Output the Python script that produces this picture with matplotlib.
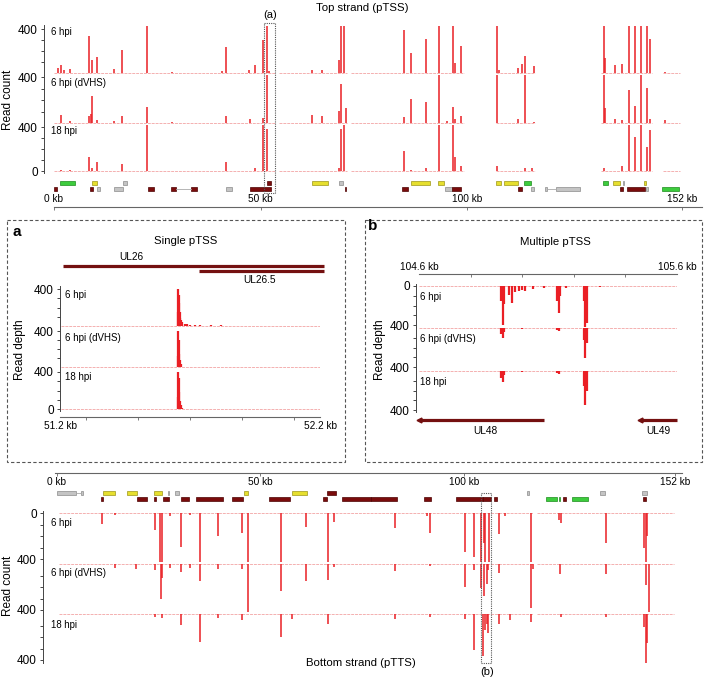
import numpy as np
import matplotlib.pyplot as plt
from matplotlib.patches import Rectangle
from matplotlib.ticker import FixedLocator

plt.rcParams['font.family'] = ['Liberation Sans', 'DejaVu Sans']
plt.rcParams['axes.linewidth'] = 0.8

W, H = 704, 677
RED = '#ea1f25'
BASE = '#f4b0b0'
AXC = '#444444'
DARK = '#741010'
GENE_FACE = {'d': '#7a0c0c', 'y': '#e6df2e', 'g': '#3dcc3d', 'n': '#c4c4c4'}
GENE_EDGE = {'d': '#4d0202', 'y': '#9c961a', 'g': '#1d8c1d', 'n': '#8c8c8c'}

libraries = ['6 hpi', '6 hpi (dVHS)', '18 hpi']

# ---- top strand (pTSS): peak position (kb) and read count
top_6h_pos = [1.0, 1.6, 2.5, 3.8, 8.5, 9.2, 10.4, 14.6, 16.5, 22.5, 28.5, 40.6, 41.7, 47.1, 48.6, 50.7,
              51.5, 52.0, 62.5, 64.8, 69.1, 69.4, 70.1, 84.7, 86.5, 90.1, 93.3, 96.5, 97.0, 98.4, 107.3,
              107.6, 112.3, 113.2, 114.1, 116.1, 133.1, 133.3, 135.9, 137.5, 139.2, 140.6, 142.1, 143.6,
              144.2, 148.0]
top_6h_cnt = [42, 73, 24, 36, 336, 118, 145, 33, 206, 425, 12, 15, 233, 30, 70, 297,
              425, 20, 30, 24, 121, 425, 425, 395, 185, 306, 425, 425, 88, 245, 425,
              30, 42, 79, 155, 64, 425, 133, 70, 79, 425, 425, 425, 425,
              309, 5]
top_dv_pos = [1.6, 3.8, 8.5, 8.9, 9.2, 10.4, 14.6, 16.5, 22.5, 28.5, 41.7, 47.5, 50.7, 51.5, 62.5, 64.8,
              69.1, 69.4, 70.6, 84.7, 86.5, 90.1, 93.3, 95.1, 96.5, 97.0, 98.4, 107.3, 112.3, 114.1,
              116.1, 133.1, 133.3, 135.9, 137.5, 139.2, 140.6, 142.1, 143.6, 144.2, 147.8]
top_dv_cnt = [68, 15, 59, 82, 238, 24, 18, 59, 141, 9, 59, 32, 47, 425, 68, 59,
              103, 341, 132, 53, 206, 182, 425, 15, 141, 38, 65, 425, 38, 425,
              9, 425, 132, 32, 24, 288, 147, 425, 303, 38, 24]
top_18h_pos = [1.6, 3.8, 8.5, 9.2, 10.4, 16.5, 22.5, 41.7, 48.6, 50.7, 51.5, 69.1, 69.4, 70.1, 84.7,
               86.5, 90.1, 93.3, 96.5, 97.0, 98.4, 107.3, 114.1, 115.6, 133.1, 137.5, 139.2, 140.6,
               142.1, 143.6, 144.2]
top_18h_cnt = [9, 12, 131, 27, 78, 66, 425, 78, 27, 425, 379, 27, 379, 425, 185,
               9, 24, 425, 425, 131, 42, 48, 24, 24, 30, 42, 425, 310,
               425, 221, 370]
top_cov = [(0, 53.5), (54.5, 71.0), (72.0, 99.3), (106.9, 116.4), (132.5, 144.8), (147.4, 151.5)]

# ---- bottom strand (pTTS)
bot_6h_pos = [11.1, 14.3, 24.1, 25.3, 25.9, 27.8, 30.4, 32.7, 35.0, 39.6, 45.4, 46.8, 55.0, 61.2, 66.5,
              68.1, 83.1, 90.9, 91.7, 100.2, 102.5, 104.2, 104.9, 105.2, 106.1, 108.5, 109.9, 116.5,
              123.2, 123.7, 134.7, 144.2, 144.6, 145.0]
bot_6h_cnt = [93, 15, 145, 425, 425, 29, 296, 15, 425, 203, 174, 425, 425, 122, 425,
              78, 130, 29, 174, 342, 383, 425, 262, 425, 425, 180, 29, 425,
              58, 87, 261, 300, 425, 203]
bot_dv_pos = [14.3, 19.5, 24.1, 25.5, 25.9, 27.8, 30.4, 32.7, 35.0, 39.6, 45.4, 46.8, 55.0, 61.2, 66.5,
              68.1, 83.1, 91.7, 100.2, 102.5, 104.2, 104.9, 105.5, 105.9, 108.5, 116.5, 116.8, 123.5,
              134.7, 144.6, 145.4]
bot_dv_cnt = [35, 43, 49, 308, 118, 35, 72, 35, 147, 46, 46, 425, 239, 147, 141,
              26, 60, 20, 199, 55, 213, 279, 170, 55, 78, 386, 40, 83,
              83, 184, 425]
bot_18h_pos = [24.1, 25.9, 30.4, 35.0, 39.6, 45.4, 55.0, 57.8, 66.5, 83.1, 91.7, 100.2, 102.5, 104.5,
               105.2, 105.5, 105.9, 108.5, 111.3, 116.5, 123.7, 134.7, 144.2, 144.6, 145.0]
bot_18h_cnt = [23, 32, 96, 241, 32, 52, 197, 43, 87, 43, 23, 43, 313, 365,
               139, 87, 168, 87, 52, 67, 23, 23, 116, 425, 250]
bot_cov = [(0.5, 116.8), (117.8, 151.5)]

# ---- genome annotation (start kb, end kb, row, kind)
top_genes = [(1.5, 5.0, 0, 'g'), (9.1, 10.3, 0, 'y'), (16.6, 17.6, 0, 'n'), (51.5, 52.5, 0, 'd'),
             (62.4, 66.3, 0, 'y'), (68.9, 69.9, 0, 'n'), (86.3, 91.1, 0, 'y'), (93.0, 94.5, 0, 'y'),
             (107.0, 108.2, 0, 'y'), (108.9, 112.3, 0, 'y'), (113.7, 115.4, 0, 'g'), (132.8, 134.0, 0, 'g'),
             (135.4, 136.9, 0, 'y'), (137.7, 138.0, 0, 'n'), (142.9, 143.4, 0, 'y'),
             (0.0, 0.8, 1, 'd'), (8.7, 9.4, 1, 'd'), (10.4, 11.1, 1, 'n'), (14.5, 16.6, 1, 'n'),
             (22.7, 24.3, 1, 'd'), (28.4, 29.6, 1, 'd'), (33.2, 34.5, 1, 'd'), (41.7, 43.1, 1, 'n'),
             (47.5, 52.5, 1, 'd'), (70.4, 70.7, 1, 'd'), (84.3, 85.8, 1, 'd'), (94.7, 96.4, 1, 'n'),
             (96.4, 98.5, 1, 'd'), (112.3, 113.3, 1, 'd'), (115.4, 116.1, 1, 'n'), (118.8, 119.3, 1, 'n'),
             (121.4, 127.2, 1, 'n'), (136.9, 137.8, 1, 'd'), (138.6, 143.1, 1, 'd'), (143.4, 143.8, 1, 'n'),
             (147.2, 151.3, 1, 'g')]
top_links = [(29.6, 33.2, 1), (119.3, 121.4, 1)]
bot_genes = [(0.0, 4.7, 0, 'n'), (5.9, 6.4, 0, 'n'), (11.3, 14.2, 0, 'y'), (17.2, 19.6, 0, 'y'),
             (23.8, 25.7, 0, 'y'), (27.2, 27.5, 0, 'n'), (28.9, 29.9, 0, 'n'), (45.8, 46.8, 0, 'y'),
             (57.6, 61.3, 0, 'y'), (66.4, 68.4, 0, 'd'), (115.4, 115.9, 0, 'n'), (133.3, 134.6, 0, 'n'),
             (143.6, 144.9, 0, 'n'),
             (10.8, 11.3, 1, 'd'), (19.6, 22.1, 1, 'd'), (23.8, 24.3, 1, 'd'), (26.0, 27.5, 1, 'd'),
             (30.4, 32.4, 1, 'd'), (34.1, 40.7, 1, 'd'), (42.9, 45.6, 1, 'd'), (52.0, 57.1, 1, 'd'),
             (65.4, 66.4, 1, 'd'), (70.1, 77.0, 1, 'd'), (77.0, 83.6, 1, 'd'), (90.2, 91.9, 1, 'd'),
             (98.0, 104.7, 1, 'd'), (104.7, 106.6, 1, 'd'), (107.4, 108.1, 1, 'd'), (120.0, 122.8, 1, 'g'),
             (123.2, 123.5, 1, 'g'), (124.3, 125.0, 1, 'd'), (126.5, 130.4, 1, 'g'), (143.9, 144.6, 1, 'd')]
bot_links = [(4.7, 5.9, 0)]

# ---- panel a (51.2-52.2 kb, top strand)
a_6h_pos = [51.652, 51.654, 51.656, 51.658, 51.660, 51.662, 51.665, 51.670, 51.680, 51.690, 51.700,
            51.720, 51.740, 51.780, 51.820, 51.900]
a_6h_cnt = [150, 400, 330, 250, 150, 90, 60, 40, 25, 20, 15, 15, 10, 8, 6, 5]
a_dv_pos = [51.652, 51.654, 51.656, 51.658, 51.660, 51.665]
a_dv_cnt = [120, 400, 300, 150, 80, 30]
a_18h_pos = [51.652, 51.654, 51.656, 51.658, 51.660, 51.665, 51.670]
a_18h_cnt = [130, 400, 330, 180, 90, 40, 15]
a_genes = [('UL26', 51.21, 52.215, 51.473), ('UL26.5', 51.735, 52.215, 51.969)]

# ---- panel b (104.6-105.6 kb, bottom strand)
b_6h_pos = [104.918, 104.924, 104.930, 104.948, 104.960, 104.973, 104.986, 105.000, 105.012, 105.040,
            105.085, 105.135, 105.141, 105.147, 105.170, 105.240, 105.245, 105.250, 105.300]
b_6h_cnt = [150, 400, 180, 92, 178, 58, 55, 40, 50, 30, 25, 150, 280, 100, 25, 150, 420, 380, 10]
b_dv_pos = [104.918, 104.924, 104.930, 105.000, 105.135, 105.141, 105.240, 105.245, 105.250]
b_dv_cnt = [60, 104, 40, 10, 25, 35, 120, 306, 150]
b_18h_pos = [104.918, 104.924, 104.930, 105.000, 105.135, 105.141, 105.240, 105.245, 105.250]
b_18h_cnt = [70, 110, 45, 10, 25, 35, 150, 350, 200]
b_genes = [('UL48', 104.6, 105.085, 104.856), ('UL49', 105.457, 105.6, 105.526)]

fig = plt.figure(figsize=(W / 100, H / 100), dpi=100)


def box(x0, y0, x1, y1):
    return [x0 / W, 1 - y1 / H, (x1 - x0) / W, (y1 - y0) / H]


def track(x0, x1, top, bot, y0, y400, xlim, majors):
    ax = fig.add_axes(box(x0, top, x1, bot))
    ax.set_ylim(400 * (bot - y0) / (y400 - y0), 400 * (top - y0) / (y400 - y0))
    ax.set_xlim(*xlim)
    ax.patch.set_alpha(0)
    for s in ['top', 'right', 'bottom']:
        ax.spines[s].set_visible(False)
    ax.spines['left'].set_color(AXC)
    ax.spines['left'].set_linewidth(0.7)
    ax.set_xticks([])
    ax.set_yticks(majors)
    ax.yaxis.set_minor_locator(FixedLocator([100, 200, 300]))
    ax.tick_params(axis='y', which='both', colors=AXC, labelcolor='black', labelsize=8.5,
                   length=2.5, width=0.7, pad=2)
    return ax


def ruler(x0, x1, ypx, xlim, ticks, labels, dy):
    ax = fig.add_axes(box(x0, ypx - 6, x1, ypx))
    ax.set_xlim(*xlim)
    ax.patch.set_alpha(0)
    for s in ['top', 'right', 'left']:
        ax.spines[s].set_visible(False)
    ax.spines['bottom'].set_color('#666666')
    ax.spines['bottom'].set_linewidth(0.8)
    ax.set_yticks([])
    ax.set_xticks(ticks)
    ax.set_xticklabels([])
    ax.tick_params(axis='x', length=2.5, width=0.6, colors='#666666')
    for k, lab in labels:
        ax.annotate(lab, (k, 0), xycoords=('data', 'axes fraction'), xytext=(0, dy),
                    textcoords='offset points', ha='center', va='center', fontsize=7.3)
    return ax


def gene_track(x0, x1, top, bot, genes, links):
    ax = fig.add_axes(box(x0, top, x1, bot))
    ax.set_xlim(0, 152)
    ax.set_ylim(0, 1)
    ax.axis('off')
    rows = [0.714, 0.286]
    for s, e, r in links:
        ax.plot([s, e], [rows[r], rows[r]], color='#aaaaaa', lw=0.6)
    for s, e, r, k in genes:
        ax.add_patch(Rectangle((s, rows[r] - 0.15), e - s, 0.3, facecolor=GENE_FACE[k],
                               edgecolor=GENE_EDGE[k], lw=0.5))
    return ax


def draw_peaks(ax, pos, cnt, cov, lw=1.1):
    for s, e in cov:
        ax.plot([s, e], [0, 0], color=BASE, lw=0.7, ls=(0, (3, 1)), zorder=1)
    ax.vlines(pos, 0, cnt, color=RED, lw=lw, zorder=2)


# ---------- top strand ----------
top_sets = [(top_6h_pos, top_6h_cnt), (top_dv_pos, top_dv_cnt), (top_18h_pos, top_18h_cnt)]
top_geom = [(25, 75, 73, 29), (75, 125, 123, 77), (125, 173, 171, 127)]
for i, ((pos, cnt), (t, b, y0, y4)) in enumerate(zip(top_sets, top_geom)):
    majors = [0, 400] if i == 2 else [400]
    ax = track(44, 682, t, b, y0, y4, (-2.42, 152), majors)
    draw_peaks(ax, pos, cnt, top_cov)
gene_track(54, 682, 179, 193, top_genes, top_links)
ruler(54, 702, 207, (0, 156.9), [0, 50, 100, 152],
      [(0, '0 kb'), (50, '50 kb'), (100, '100 kb'), (152, '152 kb')], 5.8)

# ---------- bottom strand ----------
bot_sets = [(bot_6h_pos, bot_6h_cnt), (bot_dv_pos, bot_dv_cnt), (bot_18h_pos, bot_18h_cnt)]
bot_geom = [(511, 561.5, 513, 559), (561.5, 612, 564, 610), (612, 663, 614, 660)]
for i, ((pos, cnt), (t, b, y0, y4)) in enumerate(zip(bot_sets, bot_geom)):
    majors = [0, 400] if i == 0 else [400]
    ax = track(43, 676, t, b, y0, y4, (-3.44, 152), majors)
    draw_peaks(ax, pos, cnt, bot_cov)
gene_track(57, 676, 489, 503, bot_genes, bot_links)
ruler(55, 682, 473, (-0.49, 153.6), [0, 50, 100, 152],
      [(0, '0 kb'), (50, '50 kb'), (100, '100 kb'), (152, '152 kb')], -6.5)

# ---------- panel a ----------
a_sets = [(a_6h_pos, a_6h_cnt), (a_dv_pos, a_dv_cnt), (a_18h_pos, a_18h_cnt)]
a_geom = [(286, 328.5, 326, 289), (328.5, 369.5, 367, 331), (369.5, 411, 409, 372)]
for i, ((pos, cnt), (t, b, y0, y4)) in enumerate(zip(a_sets, a_geom)):
    majors = [0, 400] if i == 2 else [400]
    ax = track(60, 320, t, b, y0, y4, (51.2, 52.2), majors)
    draw_peaks(ax, pos, cnt, [(51.205, 52.2)], lw=1.6)
ruler(60, 320, 417, (51.2, 52.2), [51.3, 51.5, 51.7, 51.9, 52.1],
      [(51.2, '51.2 kb'), (52.2, '52.2 kb')], -6.5)
ga = fig.add_axes(box(60, 250, 320, 285))
ga.set_xlim(51.2, 52.2)
ga.set_ylim(0, 1)
ga.axis('off')
for (name, s, e, lx), y, ly in zip(a_genes, [0.543, 0.4], [0.8, 0.143]):
    ga.plot([s, e], [y, y], color=DARK, lw=2.3, solid_capstyle='butt', clip_on=False)
    ga.text(lx, ly, name, ha='center', va='center', fontsize=7.3)

# ---------- panel b ----------
b_sets = [(b_6h_pos, b_6h_cnt), (b_dv_pos, b_dv_cnt), (b_18h_pos, b_18h_cnt)]
b_geom = [(284, 326.5, 286, 325), (326.5, 369, 328, 367), (369, 412, 371, 410)]
for i, ((pos, cnt), (t, b, y0, y4)) in enumerate(zip(b_sets, b_geom)):
    majors = [0, 400] if i == 0 else [400]
    ax = track(416, 677, t, b, y0, y4, (104.588, 105.6), majors)
    draw_peaks(ax, pos, cnt, [(104.6, 105.6)], lw=1.6)
ruler(419, 677, 274, (104.6, 105.6), [104.8, 105.0, 105.2, 105.4],
      [(104.6, '104.6 kb'), (105.6, '105.6 kb')], 5.0)
gb = fig.add_axes(box(419, 412, 677, 440))
gb.set_xlim(104.6, 105.6)
gb.set_ylim(0, 1)
gb.axis('off')
for name, s, e, lx in b_genes:
    gb.plot([s, e], [0.714, 0.714], color=DARK, lw=2.3, solid_capstyle='butt', clip_on=False)
    gb.plot([s], [0.714], marker='<', ms=3.5, color=DARK, clip_on=False)
    gb.text(lx, 0.32, name, ha='center', va='center', fontsize=7.3)

# ---------- labels, frames ----------
ov = fig.add_axes([0, 0, 1, 1])
ov.set_xlim(0, W)
ov.set_ylim(H, 0)
ov.axis('off')
ov.patch.set_alpha(0)

ov.text(362, 8, 'Top strand (pTSS)', ha='center', va='center', fontsize=8.2)
ov.text(270, 15, '(a)', ha='center', va='center', fontsize=8)
ov.text(361, 663, 'Bottom strand (pTTS)', ha='center', va='center', fontsize=8.2)
ov.text(487, 672, '(b)', ha='center', va='center', fontsize=8)
ov.text(8, 100, 'Read count', rotation=90, ha='center', va='center', fontsize=8.5)
ov.text(8, 586, 'Read count', rotation=90, ha='center', va='center', fontsize=8.5)
ov.text(20, 350, 'Read depth', rotation=90, ha='center', va='center', fontsize=8.5)
ov.text(380, 350, 'Read depth', rotation=90, ha='center', va='center', fontsize=8.5)
ov.text(186, 241, 'Single pTSS', ha='center', va='center', fontsize=8.2)
ov.text(555, 242, 'Multiple pTSS', ha='center', va='center', fontsize=8.2)
ov.text(17, 232, 'a', ha='center', va='center', fontsize=11, fontweight='bold')
ov.text(373, 226, 'b', ha='center', va='center', fontsize=11, fontweight='bold')

for lab, yt, yb, ya, yb2 in zip(libraries, [32, 83, 131], [523, 573, 625], [295, 338, 377], [297, 339, 382]):
    ov.text(51, yt, lab, ha='left', va='center', fontsize=6.9)
    ov.text(51, yb, lab, ha='left', va='center', fontsize=6.9)
    ov.text(65, ya, lab, ha='left', va='center', fontsize=7)
    ov.text(420, yb2, lab, ha='left', va='center', fontsize=7)

ov.add_patch(Rectangle((7, 220), 338, 242, fill=False, ec='#555555', lw=0.8, ls=(0, (3, 2))))
ov.add_patch(Rectangle((365, 220), 337, 242, fill=False, ec='#555555', lw=0.8, ls=(0, (3, 2))))
ov.add_patch(Rectangle((264, 23), 11, 170, fill=False, ec='#555555', lw=0.8, ls=(0, (1, 1))))
ov.add_patch(Rectangle((481, 493), 10, 170, fill=False, ec='#555555', lw=0.8, ls=(0, (1, 1))))

fig.savefig('out.png', dpi=100)
